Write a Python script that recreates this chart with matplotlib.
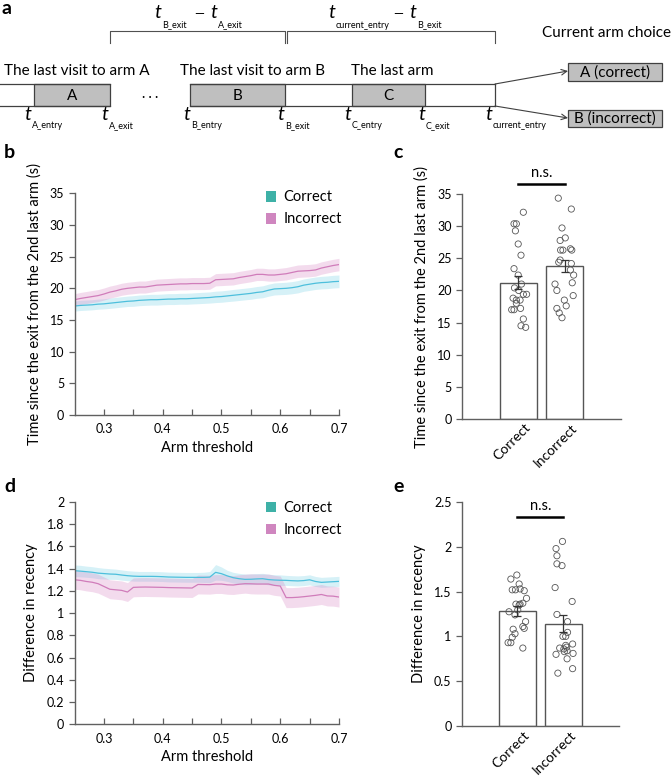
import numpy as np
import matplotlib.pyplot as plt
import matplotlib.transforms as mtransforms
from matplotlib.patches import Rectangle, Patch

plt.rcParams['font.family'] = ['Lato', 'DejaVu Sans']

# ---- data ----
thresholds = [0.25, 0.26, 0.27, 0.28, 0.29, 0.30, 0.31, 0.32, 0.33, 0.34,
              0.35, 0.36, 0.37, 0.38, 0.39, 0.40, 0.41, 0.42, 0.43, 0.44,
              0.45, 0.46, 0.47, 0.48, 0.49, 0.50, 0.51, 0.52, 0.53, 0.54,
              0.55, 0.56, 0.57, 0.58, 0.59, 0.60, 0.61, 0.62, 0.63, 0.64,
              0.65, 0.66, 0.67, 0.68, 0.69, 0.70]

# b: time since exit from 2nd last arm (s)
time_correct = [17.2, 17.3, 17.35, 17.4, 17.5, 17.55, 17.65, 17.75, 17.85, 17.95,
                18.0, 18.1, 18.15, 18.2, 18.2, 18.25, 18.3, 18.3, 18.35, 18.35,
                18.4, 18.45, 18.5, 18.55, 18.65, 18.7, 18.8, 18.9, 19.0, 19.1,
                19.2, 19.35, 19.45, 19.7, 19.9, 19.95, 20.0, 20.1, 20.25, 20.5,
                20.65, 20.8, 20.9, 20.95, 21.05, 21.1]
time_correct_sem = [0.8, 0.8, 0.8, 0.8, 0.8, 0.8, 0.82, 0.82, 0.82, 0.82,
                    0.84, 0.84, 0.84, 0.85, 0.85, 0.85, 0.86, 0.86, 0.86, 0.87,
                    0.87, 0.88, 0.88, 0.88, 0.9, 0.9, 0.9, 0.92, 0.92, 0.92,
                    0.93, 0.93, 0.94, 0.95, 0.95, 0.95, 0.96, 0.96, 0.97, 0.97,
                    0.98, 0.98, 0.99, 1.0, 1.0, 1.0]
time_incorrect = [18.2, 18.4, 18.55, 18.7, 18.85, 19.1, 19.4, 19.6, 19.85, 20.0,
                  20.1, 20.2, 20.2, 20.35, 20.5, 20.55, 20.6, 20.65, 20.7, 20.7,
                  20.75, 20.75, 20.75, 20.8, 21.35, 21.4, 21.45, 21.5, 21.7, 21.85,
                  22.0, 22.2, 22.2, 22.1, 22.1, 22.2, 22.3, 22.5, 22.7, 22.75,
                  22.8, 22.9, 23.2, 23.4, 23.6, 23.75]
time_incorrect_sem = [0.95, 0.95, 0.95, 0.95, 0.95, 0.95, 0.95, 0.95, 0.95, 0.95,
                      0.95, 0.95, 0.95, 0.95, 0.95, 0.95, 0.95, 0.95, 0.95, 0.95,
                      0.95, 0.95, 0.95, 0.95, 0.97, 0.97, 0.97, 0.97, 0.97, 0.97,
                      0.97, 0.97, 0.97, 0.97, 0.97, 0.97, 0.98, 0.98, 0.98, 0.98,
                      0.98, 0.98, 0.98, 0.98, 0.98, 0.98]

# d: difference in recency
rec_correct = [1.382, 1.378, 1.373, 1.368, 1.36, 1.356, 1.352, 1.35, 1.343, 1.337,
               1.333, 1.331, 1.331, 1.331, 1.33, 1.328, 1.325, 1.324, 1.323, 1.322,
               1.322, 1.322, 1.322, 1.324, 1.367, 1.355, 1.335, 1.319, 1.31, 1.304,
               1.305, 1.308, 1.31, 1.302, 1.298, 1.296, 1.295, 1.292, 1.29, 1.293,
               1.3, 1.285, 1.277, 1.28, 1.283, 1.286]
rec_correct_sem = [0.052, 0.052, 0.05, 0.05, 0.05, 0.048, 0.048, 0.046, 0.046, 0.045,
                   0.045, 0.044, 0.044, 0.044, 0.044, 0.044, 0.044, 0.044, 0.044, 0.044,
                   0.044, 0.044, 0.046, 0.05, 0.07, 0.06, 0.05, 0.048, 0.048, 0.048,
                   0.048, 0.048, 0.048, 0.048, 0.048, 0.048, 0.045, 0.045, 0.045, 0.045,
                   0.045, 0.045, 0.045, 0.045, 0.045, 0.045]
rec_incorrect = [1.30, 1.295, 1.285, 1.278, 1.265, 1.24, 1.215, 1.21, 1.205, 1.19,
                 1.232, 1.234, 1.235, 1.234, 1.233, 1.232, 1.23, 1.229, 1.228, 1.227,
                 1.226, 1.258, 1.257, 1.256, 1.262, 1.262, 1.255, 1.253, 1.26, 1.265,
                 1.264, 1.262, 1.262, 1.262, 1.25, 1.244, 1.14, 1.14, 1.143, 1.148,
                 1.154, 1.16, 1.168, 1.155, 1.153, 1.145]
rec_incorrect_sem = [0.085, 0.085, 0.085, 0.085, 0.085, 0.085, 0.085, 0.085, 0.085, 0.085,
                     0.085, 0.085, 0.085, 0.085, 0.085, 0.085, 0.085, 0.085, 0.085, 0.085,
                     0.085, 0.085, 0.085, 0.085, 0.085, 0.085, 0.085, 0.085, 0.085, 0.085,
                     0.09, 0.09, 0.09, 0.09, 0.09, 0.09, 0.09, 0.09, 0.09, 0.09,
                     0.09, 0.09, 0.09, 0.09, 0.09, 0.09]

groups = ['Correct', 'Incorrect']

# c: per-animal points
c_means = [21.2, 23.8]
c_sems = [1.0, 0.9]
c_correct_pts = [32.2, 30.4, 30.4, 29.3, 27.25, 25.5, 23.4, 22.4, 20.4, 21.0, 20.0, 19.4,
                 19.4, 18.8, 18.5, 18.5, 17.0, 17.0, 17.2, 18.0, 15.55, 14.5, 14.25]
c_correct_jit = [0.11, -0.09, -0.04, -0.06, 0.0, 0.06, -0.09, 0.0, -0.08, 0.07, 0.01, 0.18,
                 0.11, -0.11, -0.04, 0.04, -0.14, -0.09, 0.05, -0.04, 0.11, 0.06, 0.16]
c_incorrect_pts = [34.4, 32.7, 29.75, 28.2, 27.8, 26.3, 26.3, 26.3, 26.5, 24.75, 24.4, 24.2,
                   23.2, 22.4, 21.0, 21.2, 20.0, 19.2, 18.5, 17.6, 17.2, 16.5, 15.75]
c_incorrect_jit = [-0.14, 0.14, -0.06, 0.01, -0.10, -0.09, -0.04, 0.15, 0.12, -0.10, -0.13, 0.14,
                   0.12, 0.19, -0.21, 0.16, -0.17, 0.18, -0.01, 0.03, -0.17, -0.12, -0.06]

# e
e_means = [1.283, 1.142]
e_sems = [0.055, 0.095]
e_correct_pts = [1.685, 1.64, 1.585, 1.52, 1.52, 1.53, 1.51, 1.425, 1.36, 1.35, 1.37, 1.36,
                 1.275, 1.295, 1.24, 1.165, 1.11, 1.09, 1.08, 1.03, 0.99, 0.93, 0.93, 0.87]
e_correct_jit = [-0.01, -0.14, 0.04, -0.11, -0.04, 0.06, 0.15, 0.20, -0.03, 0.04, 0.12, 0.06,
                 -0.18, 0.01, -0.05, 0.18, 0.12, 0.15, -0.09, -0.05, -0.11, -0.20, -0.14, 0.12]
e_incorrect_pts = [2.06, 1.98, 1.90, 1.81, 1.79, 1.545, 1.39, 1.245, 1.165, 1.045, 1.0, 1.0,
                   0.87, 0.88, 0.915, 0.84, 0.83, 0.80, 0.81, 0.75, 0.64, 0.59, 0.86, 0.90]
e_incorrect_jit = [-0.02, -0.16, -0.14, -0.14, -0.03, -0.18, 0.19, -0.14, 0.09, 0.09, 0.05, -0.01,
                   -0.08, 0.07, 0.20, 0.08, 0.02, -0.16, 0.21, 0.08, 0.20, -0.12, 0.01, 0.05]

# ---- styles ----
W, H = 671, 781
COL_C_LINE = '#4dbfdc'
COL_C_BAND = '#5cc8e2'
COL_I_LINE = '#d07cba'
COL_I_BAND = '#d98ac6'
COL_C_LEG = '#3eb1a7'
COL_I_LEG = '#cf86bf'
AX_COL = '#606060'


def px_rect(x0, y0, x1, y1):
    return [x0 / W, 1 - y1 / H, (x1 - x0) / W, (y1 - y0) / H]


fig = plt.figure(figsize=(W / 100, H / 100), dpi=100)

# ---------------- panel a (schematic) ----------------
axa = fig.add_axes([0, 1 - 140 / H, 1, 140 / H])
axa.set_xlim(0, W)
axa.set_ylim(140, 0)
axa.axis('off')

y_top, y_bot = 84, 106
lc = '#404040'
# timeline outline
for xs in [(0, 110.4), (190.4, 495)]:
    axa.plot(xs, [y_top, y_top], color=lc, lw=0.9)
    axa.plot(xs, [y_bot, y_bot], color=lc, lw=0.9)
axa.plot([495, 495], [y_top, y_bot], color=lc, lw=0.9)
for x0, x1, lab in [(34.2, 110.4, 'A'), (190.4, 285.4, 'B'), (351.7, 425, 'C')]:
    axa.add_patch(Rectangle((x0, y_top), x1 - x0, y_bot - y_top, facecolor='#bfbfbf',
                            edgecolor=lc, lw=0.9))
    axa.text((x0 + x1) / 2, (y_top + y_bot) / 2 + 1, lab, ha='center', va='center', fontsize=11)
axa.text(150, 97, '· · ·', ha='center', va='center', fontsize=9)

axa.text(4, 71, 'The last visit to arm A', fontsize=11, va='center')
axa.text(180, 71, 'The last visit to arm B', fontsize=11, va='center')
axa.text(351, 71, 'The last arm', fontsize=11, va='center')


def t_label(x, y, sub, size=14, subsize=6.5):
    axa.text(x, y, 't', fontsize=size, style='italic', ha='center', va='center')
    axa.text(x + 4, y + 12, sub, fontsize=subsize, ha='left', va='center')


for x, sub in [(28, 'A_entry'), (105, 'A_exit'), (187, 'B_entry'), (281, 'B_exit'),
               (348, 'C_entry'), (421.5, 'C_exit'), (489, 'current_entry')]:
    t_label(x, 114, sub)

# brackets
for x0, x1 in [(110.4, 284.5), (286.7, 495)]:
    axa.plot([x0, x0, x1, x1], [43, 31, 31, 43], color='#505050', lw=0.8)

t_label(158, 13, 'B_exit')
axa.text(199, 14, '—', fontsize=9, ha='center', va='center')
t_label(214, 13, 'A_exit')
t_label(331.5, 13, 'current_entry')
axa.text(398, 14, '—', fontsize=9, ha='center', va='center')
t_label(413, 13, 'B_exit')

# current arm choice
axa.text(607, 33, 'Current arm choice', fontsize=11, ha='center', va='center')
for y0, y1, lab in [(63, 81, 'A (correct)'), (110, 127, 'B (incorrect)')]:
    axa.add_patch(Rectangle((568, y0), 94, y1 - y0, facecolor='#bfbfbf', edgecolor=lc, lw=0.9))
    axa.text(615, (y0 + y1) / 2 + 0.5, lab, fontsize=11, ha='center', va='center')
axa.annotate('', xy=(568, 71), xytext=(495, 84),
             arrowprops=dict(arrowstyle='->', color=lc, lw=0.8, shrinkA=0, shrinkB=0))
axa.annotate('', xy=(568, 118), xytext=(495, 106),
             arrowprops=dict(arrowstyle='->', color=lc, lw=0.8, shrinkA=0, shrinkB=0))

# panel letters
for x, y, s in [(2, 8, 'a'), (4, 153, 'b'), (393, 153, 'c'), (4, 486, 'd'), (393, 486, 'e')]:
    fig.text(x / W, 1 - y / H, s, fontsize=14, fontweight='bold', ha='left', va='center')


def style_axes(ax):
    for s in ['top', 'right']:
        ax.spines[s].set_visible(False)
    for s in ['left', 'bottom']:
        ax.spines[s].set_color(AX_COL)
        ax.spines[s].set_linewidth(1.0)
    ax.tick_params(colors=AX_COL, labelcolor='black', labelsize=9, width=0.9, length=4)


def line_panel(rect, mc, sc, mi, si, ylim, yticks, ylabel, leg_y):
    ax = fig.add_axes(rect)
    x = np.array(thresholds)
    mc, sc, mi, si = map(np.array, (mc, sc, mi, si))
    ax.fill_between(x, mc - sc, mc + sc, color=COL_C_BAND, alpha=0.25, lw=0)
    ax.fill_between(x, mi - si, mi + si, color=COL_I_BAND, alpha=0.30, lw=0)
    ax.plot(x, mc, color=COL_C_LINE, lw=0.9)
    ax.plot(x, mi, color=COL_I_LINE, lw=0.9)
    ax.set_xlim(0.25, 0.7)
    ax.set_ylim(*ylim)
    ax.set_yticks(yticks)
    ax.set_yticklabels([('%g' % v) for v in yticks])
    xt = [0.3, 0.35, 0.4, 0.45, 0.5, 0.55, 0.6, 0.65, 0.7]
    ax.set_xticks(xt)
    ax.set_xticklabels(['0.3', '', '0.4', '', '0.5', '', '0.6', '', '0.7'])
    style_axes(ax)
    ax.tick_params(axis='x', direction='in', pad=6)
    ax.set_xlabel('Arm threshold', fontsize=10.5, labelpad=4)
    ax.set_ylabel(ylabel, fontsize=10.5, labelpad=6)
    handles = [Patch(facecolor=COL_C_LEG, edgecolor='none', label='Correct'),
               Patch(facecolor=COL_I_LEG, edgecolor='none', label='Incorrect')]
    ax.legend(handles=handles, loc='upper left', bbox_to_anchor=(0.7, leg_y), frameon=False,
              fontsize=10.5, handlelength=0.75, handleheight=0.75, handletextpad=0.5,
              labelspacing=0.55, borderaxespad=0)
    return ax


line_panel(px_rect(74.6, 193.3, 339, 415), time_correct, time_correct_sem,
           time_incorrect, time_incorrect_sem, (0, 35), [0, 5, 10, 15, 20, 25, 30, 35],
           'Time since the exit from the 2nd last arm (s)', 1.04)
line_panel(px_rect(74.6, 502, 339, 724.3), rec_correct, rec_correct_sem,
           rec_incorrect, rec_incorrect_sem, (0, 2),
           [0, 0.2, 0.4, 0.6, 0.8, 1, 1.2, 1.4, 1.6, 1.8, 2],
           'Difference in recency', 1.03)


def bar_panel(rect, means, sems, pts_c, jit_c, pts_i, jit_i, ylim, yticks, ylabel, ns_y, ns_text_y):
    ax = fig.add_axes(rect)
    xpos = np.arange(len(groups))
    ax.bar(xpos, means, width=0.79, color='white', edgecolor='#555555', lw=1.0, zorder=1)
    ax.scatter(xpos[0] + np.array(jit_c), pts_c, s=20, facecolors='none',
               edgecolors='#555555', linewidths=0.6, zorder=2)
    ax.scatter(xpos[1] + np.array(jit_i), pts_i, s=20, facecolors='none',
               edgecolors='#555555', linewidths=0.6, zorder=2)
    ax.errorbar(xpos, means, yerr=sems, fmt='none', ecolor='#333333', elinewidth=0.9,
                capsize=3, capthick=0.9, zorder=3)
    ax.set_xlim(-1.2, 2.2)
    ax.set_ylim(*ylim)
    ax.set_yticks(yticks)
    ax.set_yticklabels([('%g' % v) for v in yticks])
    style_axes(ax)
    ax.set_xticks(xpos)
    ax.set_xticklabels(groups, rotation=45, ha='right', rotation_mode='anchor')
    ax.tick_params(axis='x', length=0, pad=2, labelsize=10)
    shift = mtransforms.ScaledTranslation(6 / 100, 0, fig.dpi_scale_trans)
    for lab in ax.get_xticklabels():
        lab.set_transform(lab.get_transform() + shift)
    ax.set_ylabel(ylabel, fontsize=10.5, labelpad=6)
    ax.plot([0, 1], [ns_y, ns_y], color='black', lw=1.8, clip_on=False)
    ax.text(0.5, ns_text_y, 'n.s.', ha='center', va='center', fontsize=10.5)
    return ax


bar_panel(px_rect(462.3, 194.3, 620.7, 418.7), c_means, c_sems,
          c_correct_pts, c_correct_jit, c_incorrect_pts, c_incorrect_jit,
          (0, 35), [0, 5, 10, 15, 20, 25, 30, 35],
          'Time since the exit from the 2nd last arm (s)', 36.6, 38.4)
bar_panel(px_rect(462, 502, 618.7, 726), e_means, e_sems,
          e_correct_pts, e_correct_jit, e_incorrect_pts, e_incorrect_jit,
          (0, 2.5), [0, 0.5, 1, 1.5, 2, 2.5],
          'Difference in recency', 2.33, 2.46)

fig.savefig('out.png', dpi=100)
